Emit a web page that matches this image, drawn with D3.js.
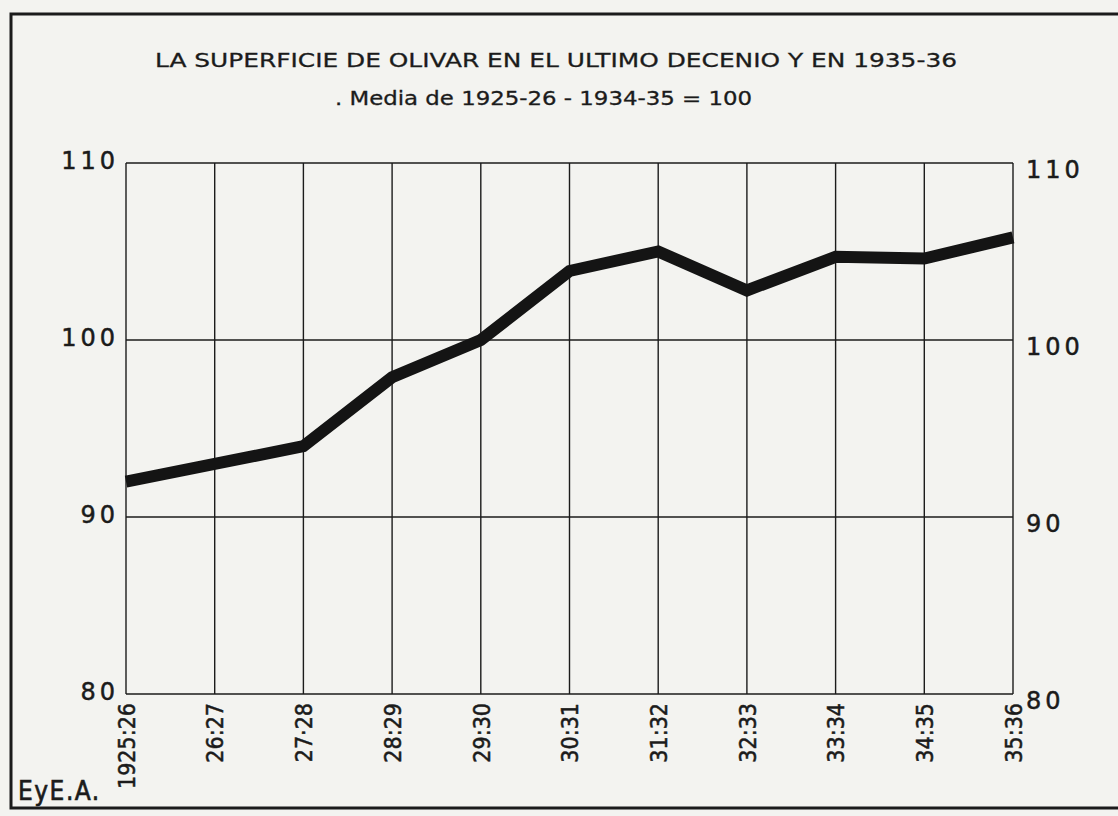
<!DOCTYPE html>
<html>
<head>
<meta charset="utf-8">
<script src="https://cdn.jsdelivr.net/npm/d3@7"></script>
<style>
  html, body { margin: 0; padding: 0; background: #f3f3f0; }
  svg { display: block; }
</style>
</head>
<body>
<svg id="chart" width="1118" height="816"></svg>
<script>
// ---- data ----
const categories = ["1925:26", "26:27", "27·28", "28:29", "29:30", "30:31", "31:32", "32:33", "33:34", "34:35", "35:36"];
const superficie = [92.0, 93.0, 94.0, 97.9, 100.0, 103.9, 105.0, 102.8, 104.7, 104.6, 105.8];
const yTicks = [80, 90, 100, 110];
const titleText = "LA SUPERFICIE DE OLIVAR EN EL ULTIMO DECENIO Y EN 1935-36";
const subtitleText = ". Media de 1925-26 - 1934-35 = 100";
const sourceText = "EyE.A.";

// ---- layout ----
const W = 1118, H = 816;
const plot = { left: 126, right: 1013, top: 163, bottom: 694 };
const ink = "#1b1b1b";
const svg = d3.select("#chart");

const x = d3.scalePoint().domain(categories).range([plot.left, plot.right]);
const y = d3.scaleLinear().domain([80, 110]).range([plot.bottom, plot.top]);

// outer frame (right side lies beyond the picture)
svg.append("path")
  .attr("d", `M${W + 5},14 L11,14 L11,808 L${W + 5},808`)
  .attr("fill", "none").attr("stroke", ink).attr("stroke-width", 3);

// title & subtitle
svg.append("text").text(titleText)
  .attr("x", 155).attr("y", 67)
  .attr("textLength", 802).attr("lengthAdjust", "spacingAndGlyphs")
  .attr("font-family", "DejaVu Sans").attr("font-size", 20).attr("fill", ink)
  .attr("stroke", ink).attr("stroke-width", 0.3);
svg.append("text").text(subtitleText)
  .attr("x", 335).attr("y", 105)
  .attr("textLength", 417).attr("lengthAdjust", "spacingAndGlyphs")
  .attr("font-family", "DejaVu Sans").attr("font-size", 19).attr("fill", ink)
  .attr("stroke", ink).attr("stroke-width", 0.3);

// grid
const g = svg.append("g");
g.selectAll("line.h").data(yTicks).join("line")
  .attr("x1", plot.left).attr("x2", plot.right)
  .attr("y1", d => y(d)).attr("y2", d => y(d))
  .attr("stroke", ink).attr("stroke-width", 1.4);
g.selectAll("line.v").data(categories).join("line")
  .attr("x1", d => x(d)).attr("x2", d => x(d))
  .attr("y1", plot.top).attr("y2", plot.bottom)
  .attr("stroke", ink).attr("stroke-width", 1.4);

// y axes (left and right)
const yLeft = svg.append("g").attr("transform", `translate(${plot.left - 4},-2)`)
  .call(d3.axisLeft(y).tickValues(yTicks).tickSize(0).tickFormat(d3.format("d")));
const yRight = svg.append("g").attr("transform", `translate(${plot.right + 10},7)`)
  .call(d3.axisRight(y).tickValues(yTicks).tickSize(0).tickFormat(d3.format("d")));
[yLeft, yRight].forEach(a => {
  a.select(".domain").remove();
  a.selectAll("text")
    .attr("font-family", "DejaVu Sans").attr("font-size", 24)
    .attr("letter-spacing", 4).attr("fill", ink)
    .attr("stroke", ink).attr("stroke-width", 0.5);
});

// x axis labels (rotated)
const xAxis = svg.append("g").attr("transform", `translate(0,${plot.bottom + 9})`)
  .call(d3.axisBottom(x).tickSize(0));
xAxis.select(".domain").remove();
xAxis.selectAll("text")
  .attr("font-family", "DejaVu Sans Condensed, DejaVu Sans").attr("font-size", 23)
  .attr("fill", ink).attr("stroke", ink).attr("stroke-width", 0.5)
  .attr("text-anchor", "end")
  .attr("transform", "rotate(-90)")
  .attr("x", 0).attr("y", 0).attr("dy", "0.36em");

// data line
const line = d3.line().x((d, i) => x(categories[i])).y(d => y(d));
svg.append("path").datum(superficie)
  .attr("d", line)
  .attr("fill", "none").attr("stroke", "#141414")
  .attr("stroke-width", 12).attr("stroke-linejoin", "miter").attr("stroke-linecap", "butt");

// source note
svg.append("text").text(sourceText)
  .attr("x", 18).attr("y", 800)
  .attr("font-family", "DejaVu Sans Condensed, DejaVu Sans").attr("font-size", 26)
  .attr("letter-spacing", 1.5)
  .attr("fill", ink).attr("stroke", ink).attr("stroke-width", 0.6);
</script>
</body>
</html>
